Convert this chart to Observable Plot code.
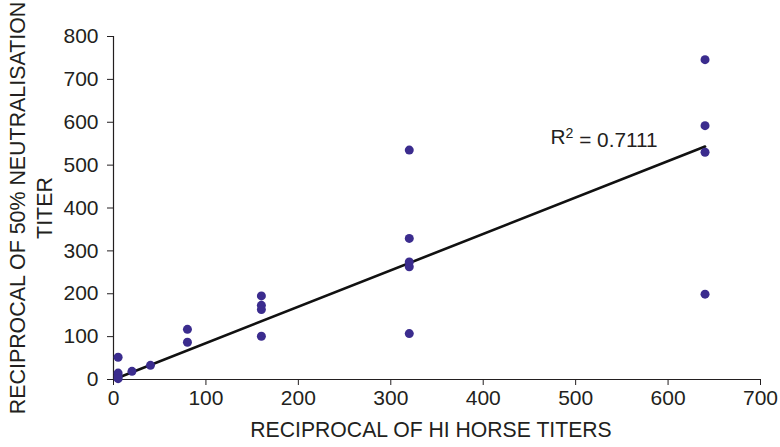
<!DOCTYPE html>
<html>
<head>
<meta charset="utf-8">
<script src="https://cdn.jsdelivr.net/npm/d3@7"></script>
<script src="https://cdn.jsdelivr.net/npm/@observablehq/plot@0.6"></script>
<style>
  html, body { margin: 0; padding: 0; background: #fff; }
  #chart { width: 780px; height: 447px; }
</style>
</head>
<body>
<div id="chart"></div>
<script>
// HI horse titers (x) and 50% neutralisation titers (y)
const hiTiters = [5, 5, 5, 5, 20, 40, 80, 80, 160, 160, 160, 160, 320, 320, 320, 320, 320, 640, 640, 640, 640];
const neutTiters = [52, 15, 8, 2, 19, 33, 117, 87, 195, 173, 163, 101, 535, 329, 274, 263, 107, 746, 592, 530, 199];
const xTicks = [0, 100, 200, 300, 400, 500, 600, 700];
const yTicks = [0, 100, 200, 300, 400, 500, 600, 700, 800];
const xTitle = "RECIPROCAL OF HI HORSE TITERS";
const yTitleLines = ["RECIPROCAL OF 50% NEUTRALISATION", "TITER"];
const r2Label = "0.7111";

const points = hiTiters.map((x, i) => ({x, y: neutTiters[i]}));
// linear trendline through the origin (least squares)
const slope = d3.sum(points, d => d.x * d.y) / d3.sum(points, d => d.x * d.x);
const [xMin, xMax] = d3.extent(hiTiters);
const trend = [xMin, xMax].map(x => ({x, y: slope * x}));

const font = "'Liberation Sans', Arial, Helvetica, sans-serif";
const ink = "#231f20";

const chart = Plot.plot({
  width: 780,
  height: 447,
  marginLeft: 113,
  marginRight: 20,
  marginTop: 36,
  marginBottom: 68,
  style: {fontFamily: font, fontSize: "21px", color: ink, background: "white"},
  x: {domain: [0, 700]},
  y: {domain: [0, 800]},
  marks: [
    Plot.ruleX([0], {stroke: ink, strokeWidth: 1.2}),
    Plot.ruleY([0], {stroke: ink, strokeWidth: 1.2}),
    Plot.axisX({ticks: xTicks, tickSize: 6, tickPadding: 5, label: null, stroke: ink}),
    Plot.axisY({ticks: yTicks, tickSize: 6, tickPadding: 9, label: null, stroke: ink}),
    Plot.line(trend, {x: "x", y: "y", stroke: "#111", strokeWidth: 2.6}),
    Plot.dot(points, {x: "x", y: "y", r: 4.5, fill: "#3b2c8e", stroke: "none"}),
    Plot.text([xTitle], {frameAnchor: "bottom", dy: 57, dx: -6, textAnchor: "middle", fill: ink, fontSize: 21.2}),
    Plot.text([yTitleLines[0]], {frameAnchor: "left", dx: -95, rotate: -90, textAnchor: "middle", fill: ink, fontSize: 21.4}),
    Plot.text([yTitleLines[1]], {frameAnchor: "left", dx: -68, rotate: -90, textAnchor: "middle", fill: ink, fontSize: 21.4}),
    Plot.text(["R2 = " + r2Label], {frameAnchor: "top-right", dx: -210, dy: 93, textAnchor: "start", fill: ink, fontSize: 20.8, className: "r2"})
  ]
});
document.getElementById("chart").appendChild(chart);

// render the 2 of R² as a superscript
d3.select(chart).selectAll(".r2 text").each(function() {
  const t = d3.select(this);
  t.text(null);
  t.append("tspan").text("R");
  t.append("tspan").attr("dy", "-0.45em").attr("font-size", "0.68em").text("2");
  t.append("tspan").attr("dy", "0.45em").text(" = " + r2Label);
});
</script>
</body>
</html>
